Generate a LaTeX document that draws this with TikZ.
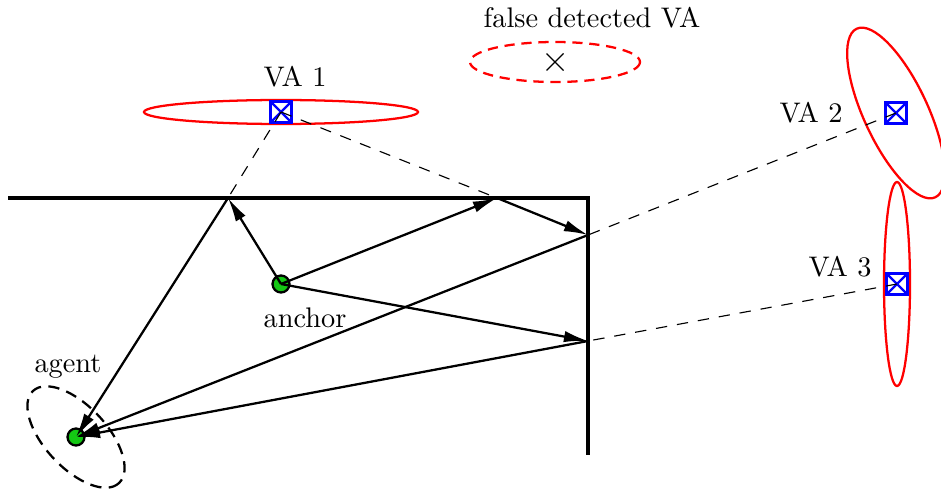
\documentclass[tikz,border=0pt]{standalone}
\usetikzlibrary{arrows.meta,shapes.misc}
\definecolor{nodegreen}{RGB}{20,200,20}
\begin{document}
\begin{tikzpicture}[
    x=0.0124cm, y=-0.0124cm,
    device/.style={
        circle,
        draw=black,
        thick,
        fill=nodegreen,
        minimum size=6pt,
        inner sep=0pt
    },
    vabox/.style={
        rectangle,
        draw=blue,
        thick,
        minimum size=7.4pt,
        inner sep=0pt,
        path picture={
            \draw[blue, thick]
                (path picture bounding box.north west) -- (path picture bounding box.south east)
                (path picture bounding box.north east) -- (path picture bounding box.south west);
        }
    },
    ray/.style={thick, -{Latex[length=8.5pt, width=4pt]}},
    image/.style={thin, dash pattern=on 4pt off 3.5pt},
    spread/.style={red, thick}
]
\useasboundingbox (0,0) rectangle (941,492);

% Walls and reflection points
\draw[line width=1.3pt, line join=miter] (8,198) -- (588,198) -- (588,455);
\coordinate (r1) at (228,198);
\coordinate (r2) at (497,198);
\coordinate (r3) at (588,235);
\coordinate (r4) at (588,341);

% Virtual anchors with their uncertainty
\draw[spread] (281,112) ellipse [x radius=137, y radius=12];
\draw[spread, rotate around={115:(896,113)}] (896,113) ellipse [x radius=93, y radius=32];
\draw[spread] (897,284) ellipse [x radius=13, y radius=102];
\draw[red, thick, dash pattern=on 3.6pt off 2.4pt] (555,62) ellipse [x radius=85, y radius=20];

\node[vabox] (va1) at (281,112) {};
\node[vabox] (va2) at (896,113) {};
\node[vabox] (va3) at (897,284) {};
\node[cross out, draw, thin, minimum size=5.6pt, inner sep=0pt] (fva) at (555,62) {};

\node at (295,77) {VA 1};
\node at (811,113) {VA 2};
\node at (840,267) {VA 3};
\node at (592,18) {false detected VA};

% Anchor and agent
\draw[thick, dash pattern=on 4pt off 2.6pt, rotate around={-47:(76,437)}] (76,437) ellipse [x radius=63, y radius=31];
\node[device] (anchor) at (281,284) {};
\node[device] (agent) at (76,437) {};
\node at (305,318) {anchor};
\node at (68,367) {agent};

% Image lines
\draw[image] (va1.center) -- (r1);
\draw[image] (va1.center) -- (r2);
\draw[image] (va2.center) -- (r3);
\draw[image] (va3.center) -- (r4);

% Propagation paths
\draw[ray] (anchor.center) -- (r1);
\draw[ray] (r1) -- (agent.center);
\draw[ray] (anchor.center) -- (r2);
\draw[ray] (r2) -- (r3);
\draw[ray] (r3) -- (agent.center);
\draw[ray] (anchor.center) -- (r4);
\draw[ray] (r4) -- (agent.center);
\end{tikzpicture}
\end{document}
